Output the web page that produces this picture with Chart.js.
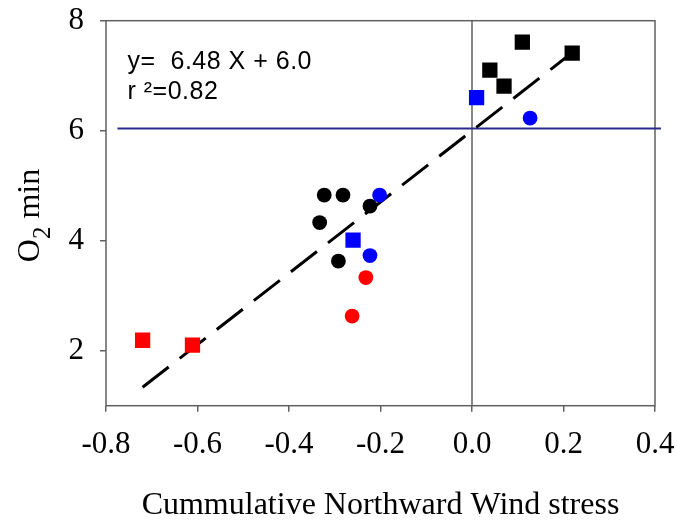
<!DOCTYPE html>
<html>
<head>
<meta charset="utf-8">
<script src="https://cdn.jsdelivr.net/npm/chart.js@4.4.1/dist/chart.umd.min.js"></script>
<style>
  html, body { margin: 0; padding: 0; background: #fff; }
  canvas { display: block; }
</style>
</head>
<body>
<canvas id="chart" width="677" height="522"></canvas>
<script>
// Axis ranges and tick positions
const xMin = -0.8, xMax = 0.4;
const yMin = 1, yMax = 8;
const xTicks = [-0.8, -0.6, -0.4, -0.2, 0.0, 0.2, 0.4];
const yTicks = [2, 4, 6, 8];

// Observations: wind stress (x) vs minimum O2 (y)
const blackSquaresX = [0.110, 0.219, 0.039, 0.070];
const blackSquaresY = [7.61, 7.41, 7.10, 6.81];
const blueSquaresX = [0.010, -0.260];
const blueSquaresY = [6.60, 4.01];
const redSquaresX = [-0.720, -0.611];
const redSquaresY = [2.19, 2.10];
const blackCirclesX = [-0.323, -0.282, -0.223, -0.333, -0.292];
const blackCirclesY = [4.83, 4.83, 4.63, 4.33, 3.63];
const blueCirclesX = [0.127, -0.202, -0.223];
const blueCirclesY = [6.23, 4.83, 3.73];
const redCirclesX = [-0.232, -0.262];
const redCirclesY = [3.33, 2.63];

// Linear fit y = slope * x + intercept
const slope = 6.48;
const intercept = 6.0;
const rSquared = 0.82;
const fitRangeX = [-0.72, 0.22];

// Horizontal reference level
const referenceO2 = 6.04;
const referenceRangeX = [-0.775, 0.413];

const toPoints = (xs, ys) => xs.map((x, i) => ({ x: x, y: ys[i] }));
const fitPoints = fitRangeX.map(x => ({ x: x, y: slope * x + intercept }));
const refPoints = referenceRangeX.map(x => ({ x: x, y: referenceO2 }));
const zeroLine = [{ x: 0, y: yMin }, { x: 0, y: yMax }];

const FRAME = '#606060';
const SERIF = '"Liberation Serif", "Times New Roman", serif';
const SANS = '"Liberation Sans", Arial, sans-serif';

function markers(xs, ys, color, style) {
  return {
    type: 'scatter',
    data: toPoints(xs, ys),
    pointStyle: style,
    pointRadius: style === 'rect' ? 10.8 : 7.4,
    pointHoverRadius: style === 'rect' ? 10.8 : 7.4,
    backgroundColor: color,
    borderColor: color,
    borderWidth: 0,
    order: 1
  };
}

function lineSet(points, color, width, dash, clip) {
  return {
    type: 'line',
    data: points,
    borderColor: color,
    borderWidth: width,
    borderDash: dash,
    borderCapStyle: 'butt',
    pointRadius: 0,
    pointHoverRadius: 0,
    fill: false,
    tension: 0,
    clip: clip,
    order: 5
  };
}

// keep the plot box where the layout padding puts it
function noScalePadding(s) {
  s.paddingTop = 0;
  s.paddingBottom = 0;
  s.paddingLeft = 0;
  s.paddingRight = 0;
}

// Plot frame, regression label and the y-axis title with subscript
const decorations = {
  id: 'decorations',
  beforeDatasetsDraw(chart) {
    const { ctx, chartArea: a } = chart;
    ctx.save();
    ctx.strokeStyle = FRAME;
    ctx.lineWidth = 1.5;
    ctx.strokeRect(a.left, a.top, a.right - a.left, a.bottom - a.top);
    ctx.restore();
  },
  afterDraw(chart) {
    const { ctx, chartArea: a } = chart;
    ctx.save();
    ctx.fillStyle = '#000';
    ctx.font = '25px ' + SANS;
    ctx.letterSpacing = '0.5px';
    ctx.textAlign = 'left';
    ctx.textBaseline = 'alphabetic';
    ctx.fillText('y=  ' + slope.toFixed(2) + ' X + ' + intercept.toFixed(1), a.left + 21.5, a.top + 48.5);
    ctx.fillText('r \u00B2=' + rSquared.toFixed(2), a.left + 21.5, a.top + 78);
    ctx.letterSpacing = '0px';

    // rotated "O2 min"
    const cy = (a.top + a.bottom) / 2;
    ctx.translate(39, cy + 49);
    ctx.rotate(-Math.PI / 2);
    ctx.font = '32px ' + SERIF;
    ctx.fillText('O', 0, 0);
    let x = ctx.measureText('O').width;
    ctx.font = '25px ' + SERIF;
    ctx.fillText('2', x, 11);
    x += ctx.measureText('2').width;
    ctx.font = '32px ' + SERIF;
    ctx.fillText(' min', x, 0);
    ctx.restore();
  }
};

new Chart(document.getElementById('chart'), {
  type: 'scatter',
  data: {
    datasets: [
      markers(blackSquaresX, blackSquaresY, '#000000', 'rect'),
      markers(blueSquaresX, blueSquaresY, '#0000ff', 'rect'),
      markers(redSquaresX, redSquaresY, '#ff0000', 'rect'),
      markers(blackCirclesX, blackCirclesY, '#000000', 'circle'),
      markers(blueCirclesX, blueCirclesY, '#0000ff', 'circle'),
      markers(redCirclesX, redCirclesY, '#ff0000', 'circle'),
      lineSet(fitPoints, '#000000', 3, [33, 14], true),
      lineSet(refPoints, '#2b2b8c', 2, [], false),
      lineSet(zeroLine, FRAME, 1.5, [], true)
    ]
  },
  options: {
    responsive: false,
    animation: false,
    events: [],
    layout: { padding: { top: 20.7, right: 22, left: 0, bottom: 0 } },
    plugins: {
      legend: { display: false },
      tooltip: { enabled: false },
      title: { display: false }
    },
    scales: {
      x: {
        type: 'linear',
        min: xMin,
        max: xMax,
        afterBuildTicks: s => { s.ticks = xTicks.map(v => ({ value: v })); },
        afterFit: s => { s.height = 116.3; noScalePadding(s); },
        ticks: {
          callback: v => Number(v).toFixed(1),
          font: { family: SERIF, size: 31 },
          color: '#000',
          padding: 15,
          maxRotation: 0,
          autoSkip: false
        },
        grid: { drawOnChartArea: false, drawTicks: true, tickLength: 6, color: FRAME, lineWidth: 1.5 },
        border: { display: false },
        title: {
          display: true,
          text: 'Cummulative Northward Wind stress',
          font: { family: SERIF, size: 32, lineHeight: 1 },
          color: '#000',
          padding: { top: 0, bottom: 0 }
        }
      },
      y: {
        type: 'linear',
        min: yMin,
        max: yMax,
        afterBuildTicks: s => { s.ticks = yTicks.map(v => ({ value: v })); },
        afterFit: s => { s.width = 106; noScalePadding(s); },
        ticks: {
          callback: v => String(v),
          font: { family: SERIF, size: 31 },
          color: '#000',
          padding: 16
        },
        grid: { drawOnChartArea: false, drawTicks: true, tickLength: 6, color: FRAME, lineWidth: 1.5 },
        border: { display: false }
      }
    }
  },
  plugins: [decorations]
});
</script>
</body>
</html>
